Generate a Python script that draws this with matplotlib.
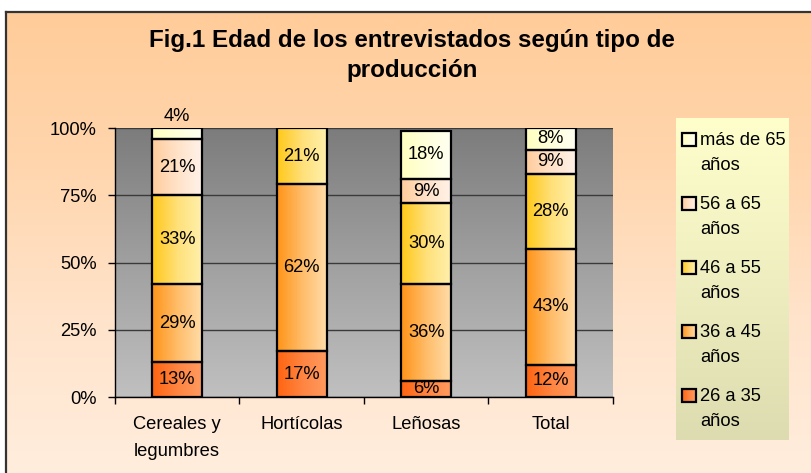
import numpy as np
import matplotlib
matplotlib.use('Agg')
import matplotlib.pyplot as plt
from matplotlib.colors import LinearSegmentedColormap
from matplotlib.patches import Rectangle

plt.rcParams['font.family'] = ['Liberation Sans', 'DejaVu Sans']

# ---------------- data ----------------
categories = ['Cereales y\nlegumbres', 'Hortícolas', 'Leñosas', 'Total']
series_labels = ['26 a 35\naños', '36 a 45\naños', '46 a 55\naños',
                 '56 a 65\naños', 'más de 65\naños']
v_26_35 = [13, 17, 6, 12]
v_36_45 = [29, 62, 36, 43]
v_46_55 = [33, 21, 30, 28]
v_56_65 = [21, 0, 9, 9]
v_65_plus = [4, 0, 18, 8]
y_ticks = [0, 25, 50, 75, 100]
y_tick_labels = ['0%', '25%', '50%', '75%', '100%']
title_lines = ['Fig.1 Edad de los entrevistados según tipo de', 'producción']

series = [v_26_35, v_36_45, v_46_55, v_56_65, v_65_plus]

# horizontal gradients (left -> right) per series
gradients = [
    ['#FF6410', '#FF8440', '#FF9A60'],
    ['#FF9418', '#FFBC68', '#FFDCA8'],
    ['#FFC818', '#FFE078', '#FFF0AC'],
    ['#FFCC9C', '#FFE2C8', '#FFF2E8'],
    ['#FFFFC0', '#FFFFDA', '#FFFFF2'],
]

W, H = 812, 473
fig = plt.figure(figsize=(W / 100, H / 100), dpi=100)
fig.patch.set_facecolor('white')

# ---------------- figure background ----------------
bg = fig.add_axes([0, 0, 1, 1], zorder=-10)
bg.axis('off')
vgrad = np.linspace(0, 1, 256).reshape(-1, 1)
bgcmap = LinearSegmentedColormap.from_list('bg', ['#FFCC99', '#FFD6AE', '#FFE4CC', '#FFEEDE'])
bg.imshow(vgrad, cmap=bgcmap, extent=[6, W + 10, H + 10, 12], aspect='auto',
          interpolation='bilinear')
bg.plot([6, 6], [H + 10, 12], color='#333333', lw=1.6, solid_capstyle='projecting')
bg.plot([6, W + 10], [12, 12], color='#333333', lw=1.6, solid_capstyle='projecting')
bg.set_xlim(0, W)
bg.set_ylim(H, 0)

# ---------------- title ----------------
fig.text(412 / W, 1 - 40 / H, title_lines[0], ha='center', va='center',
         fontsize=17.4, fontweight='bold')
fig.text(412 / W, 1 - 70 / H, title_lines[1], ha='center', va='center',
         fontsize=17.4, fontweight='bold')

# ---------------- main axes ----------------
ax = fig.add_axes([115 / W, 1 - 397 / H, (613 - 115) / W, (397 - 128) / H])
ax.set_axisbelow(True)
pcmap = LinearSegmentedColormap.from_list('plot', ['#7C7C7C', '#A0A0A0', '#C0C0C0'])
ax.imshow(vgrad, cmap=pcmap, extent=[-0.5, 3.5, 0, 100], aspect='auto',
          zorder=0, interpolation='bilinear')

x = np.arange(len(categories))
bottom = np.zeros(len(categories))
hgrad = np.linspace(0, 1, 128).reshape(1, -1)
for i, vals in enumerate(series):
    vals = np.array(vals, dtype=float)
    cmap = LinearSegmentedColormap.from_list(f's{i}', gradients[i])
    bars = ax.bar(x, vals, 0.4, bottom=bottom, facecolor='none',
                  edgecolor='black', linewidth=1.6, zorder=4)
    for b, v in zip(bars, vals):
        if v == 0:
            b.set_visible(False)
            continue
        x0, y0, w, h = b.get_x(), b.get_y(), b.get_width(), b.get_height()
        ax.imshow(hgrad, cmap=cmap, extent=[x0, x0 + w, y0, y0 + h],
                  aspect='auto', zorder=3, interpolation='bilinear')
        if v < 5:
            ty = y0 + h + 4.2
        else:
            ty = y0 + h / 2
        ax.text(x0 + w / 2, ty, f'{int(v)}%', ha='center', va='center',
                fontsize=13.2, zorder=5, clip_on=False)
    bottom += vals

ax.set_xlim(-0.5, 3.5)
ax.set_ylim(0, 100)
ax.grid(axis='y', color='#3A3A3A', linewidth=1)
ax.grid(axis='x', visible=False)
for s in ['top', 'right']:
    ax.spines[s].set_visible(False)
for s in ['left', 'bottom']:
    ax.spines[s].set_color('black')
    ax.spines[s].set_linewidth(1)

ax.set_yticks(y_ticks, y_tick_labels)
ax.tick_params(axis='y', length=5, width=1, pad=8, labelsize=13.2, colors='black')
ax.set_xticks(x, categories)
ax.set_xticks(np.arange(-0.5, len(categories), 1), minor=True)
ax.tick_params(axis='x', which='major', length=0, pad=13.5, labelsize=13.2)
ax.tick_params(axis='x', which='minor', length=5, width=1)
for lbl in ax.get_xticklabels():
    lbl.set_linespacing(1.75)

# ---------------- legend ----------------
lw_, lh_ = 113, 322
lg = fig.add_axes([676 / W, 1 - 440 / H, lw_ / W, lh_ / H])
lg.axis('off')
lcmap = LinearSegmentedColormap.from_list('leg', ['#FFFFCC', '#EEEEC0', '#DCDCB0'])
lg.imshow(vgrad, cmap=lcmap, extent=[0, lw_, lh_, 0], aspect='auto',
          interpolation='bilinear')
order = list(range(len(series_labels)))[::-1]
for j, idx in enumerate(order):
    yc = 21.5 + 64 * j
    cmap = LinearSegmentedColormap.from_list(f'l{idx}', gradients[idx])
    lg.imshow(hgrad, cmap=cmap, extent=[6, 20, yc + 6.5, yc - 6.5],
              aspect='auto', interpolation='bilinear', zorder=2)
    lg.add_patch(Rectangle((6, yc - 6.5), 14, 13, facecolor='none',
                           edgecolor='black', linewidth=1.6, zorder=3))
    lines = series_labels[idx].split('\n')
    for k, line in enumerate(lines):
        lg.text(24, yc + 0.5 + 25.5 * k, line, ha='left', va='center', fontsize=13.2)
lg.set_xlim(0, lw_)
lg.set_ylim(lh_, 0)

fig.savefig('out.png', dpi=100)
